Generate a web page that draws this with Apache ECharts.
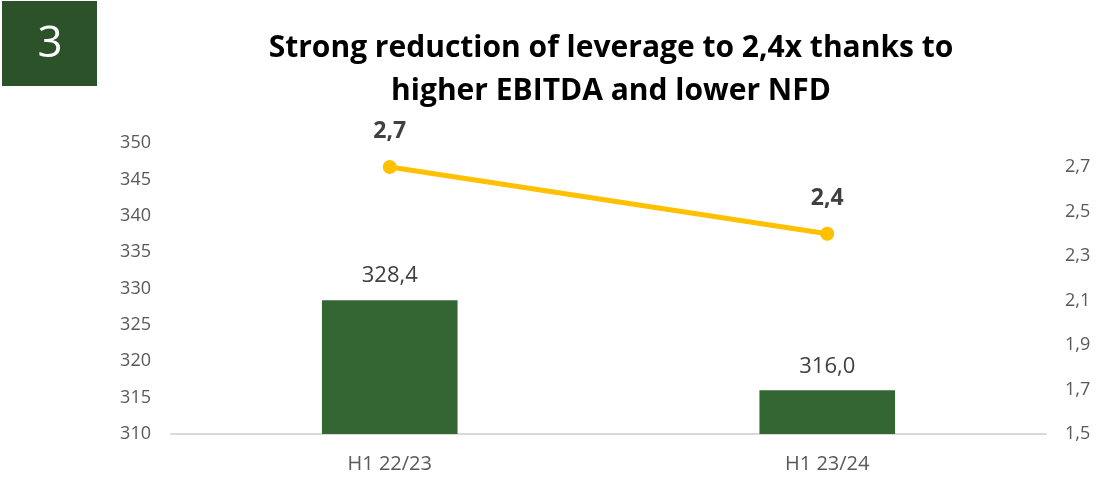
<!DOCTYPE html>
<html>
<head>
<meta charset="utf-8">
<script src="https://cdn.jsdelivr.net/npm/echarts@6/dist/echarts.min.js"></script>
<style>
  html, body { margin: 0; padding: 0; background: #fff; }
  #chart { width: 1099px; height: 482px; }
</style>
</head>
<body>
<div id="chart"></div>
<script>
// periods on the x axis
var periods = ['H1 22/23', 'H1 23/24'];
// net financial debt (bars, left axis)
var nfd = [328.4, 316.0];
// leverage (line, right axis)
var leverage = [2.7, 2.4];
var leftTicks = [310, 350, 5];
var rightTicks = [1.5, 2.808, 0.2];

(function () {
  var chart = echarts.init(document.getElementById('chart'));
  var font = '"Open Sans", "Noto Sans", sans-serif';

  function comma(v, d) {
    return Number(v).toFixed(d).replace('.', ',');
  }

  var option = {
    animation: false,
    textStyle: { fontFamily: font },
    title: {
      text: 'Strong reduction of leverage to 2,4x thanks to\nhigher EBITDA and lower NFD',
      left: 606,
      textAlign: 'center',
      top: 22,
      textStyle: {
        fontFamily: font,
        fontSize: 30,
        fontWeight: 'bold',
        color: '#000',
        lineHeight: 43
      }
    },
    graphic: [{
      type: 'rect',
      left: 2,
      top: 1,
      shape: { width: 95, height: 85 },
      style: { fill: '#2b5228' }
    }, {
      type: 'text',
      x: 50,
      y: 44,
      style: {
        text: '3', fill: '#fff', font: '44px ' + font,
        align: 'center', verticalAlign: 'middle'
      }
    }],
    grid: { left: 171, right: 53, top: 143, bottom: 48 },
    xAxis: {
      type: 'category',
      data: periods,
      axisLine: { lineStyle: { color: '#d9d9d9', width: 2 } },
      axisTick: { show: false },
      axisLabel: { color: '#595959', fontSize: 20, margin: 20 }
    },
    yAxis: [{
      type: 'value',
      min: leftTicks[0],
      max: leftTicks[1],
      interval: leftTicks[2],
      splitLine: { show: false },
      axisLine: { show: false },
      axisTick: { show: false },
      axisLabel: { color: '#595959', fontSize: 18, margin: 20 }
    }, {
      type: 'value',
      min: rightTicks[0],
      max: rightTicks[1],
      interval: rightTicks[2],
      splitLine: { show: false },
      axisLine: { show: false },
      axisTick: { show: false },
      axisLabel: {
        color: '#595959',
        fontSize: 18,
        margin: 19,
        showMaxLabel: false,
        formatter: function (v) {
          return v > 2.75 ? '' : comma(v, 1);
        }
      }
    }],
    series: [{
      type: 'bar',
      data: nfd,
      barWidth: '31%',
      itemStyle: { color: '#336633' },
      label: {
        show: true,
        position: 'top',
        distance: 13,
        color: '#404040',
        fontSize: 22,
        formatter: function (p) { return comma(p.value, 1); }
      }
    }, {
      type: 'line',
      yAxisIndex: 1,
      data: leverage,
      symbol: 'circle',
      symbolSize: 14,
      lineStyle: { color: '#ffc000', width: 5 },
      itemStyle: { color: '#ffc000' },
      label: {
        show: true,
        position: 'top',
        distance: 17,
        color: '#404040',
        fontSize: 23,
        fontWeight: 'bold',
        formatter: function (p) { return comma(p.value, 1); }
      }
    }]
  };
  chart.setOption(option);
})();
</script>
</body>
</html>
